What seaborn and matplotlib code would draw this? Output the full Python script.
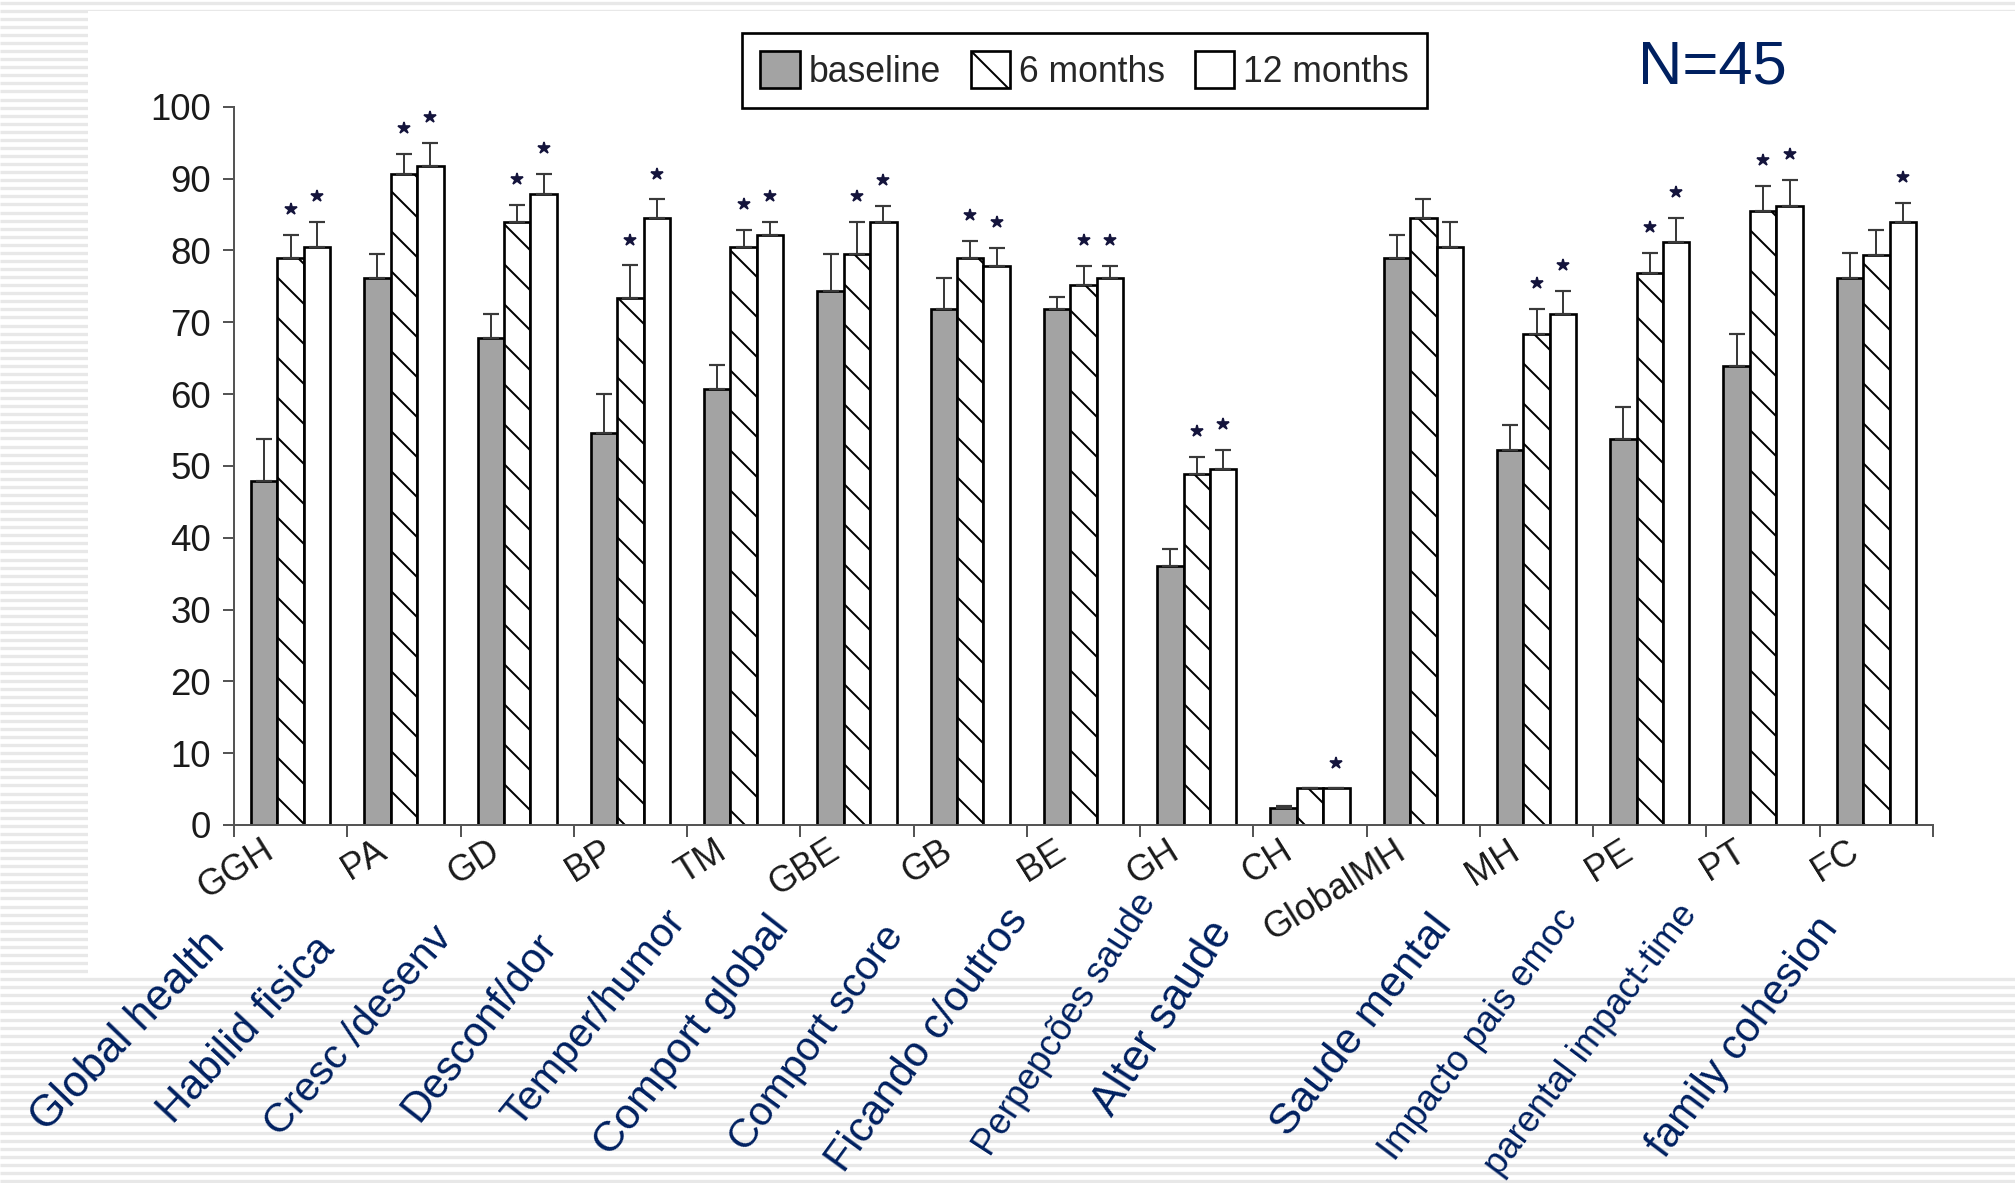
import numpy as np
import pandas as pd
import matplotlib
matplotlib.use("Agg")
import matplotlib.pyplot as plt
from matplotlib.patches import Patch, Rectangle
import seaborn as sns

# ---- data -------------------------------------------------------------
categories = ["GGH", "PA", "GD", "BP", "TM", "GBE", "GB", "BE", "GH", "CH",
              "GlobalMH", "MH", "PE", "PT", "FC"]
periods = ["baseline", "6 months", "12 months"]

baseline = [47.9, 76.2, 67.8, 54.6, 60.7, 74.4, 71.8, 71.8, 36.1, 2.4,
            78.9, 52.2, 53.8, 63.9, 76.2]
baseline_err = [5.9, 3.3, 3.3, 5.4, 3.3, 5.1, 4.4, 1.7, 2.3, 0.3,
                3.2, 3.5, 4.4, 4.5, 3.4]
months6 = [78.9, 90.6, 83.9, 73.4, 80.5, 79.5, 78.9, 75.2, 48.9, 5.1,
           84.5, 68.4, 76.8, 85.5, 79.4]
months6_err = [3.2, 2.8, 2.4, 4.5, 2.4, 4.4, 2.4, 2.6, 2.3, 0.0,
               2.7, 3.4, 2.8, 3.5, 3.5]
months12 = [80.5, 91.7, 87.9, 84.5, 82.2, 83.9, 77.8, 76.2, 49.5, 5.1,
            80.5, 71.1, 81.1, 86.2, 83.9]
months12_err = [3.5, 3.3, 2.8, 2.6, 1.7, 2.3, 2.5, 1.6, 2.7, 0.0,
                3.4, 3.3, 3.4, 3.6, 2.7]

# significance vs baseline (asterisks)
sig_6m = [1, 1, 1, 1, 1, 1, 1, 1, 1, 0, 0, 1, 1, 1, 0]
sig_12m = [1, 1, 1, 1, 1, 1, 1, 1, 1, 1, 0, 1, 1, 1, 1]

# Portuguese descriptions of each scale
descriptions = ["Global health", "Habilid fisica", "Cresc /desenv", "Desconf/dor",
                "Temper/humor", "Comport global", "Comport score", "Ficando c/outros",
                "Perpepcões saude", "Alter saude", "Saude mental", "Impacto pais emoc",
                "parental impact-time", "family cohesion"]

# ---- layout -----------------------------------------------------------
DPI = 120
W, H = 2015, 1183
NAVY = "#002060"

# (centre x px, centre y px, angle, size) for each description
desc_layout = [
    (128, 1032, 46, 26.4), (246, 1030, 47, 25.6), (358, 1031, 49, 24.8),
    (480, 1027, 52, 25.2), (594, 1018, 51, 24.8), (692, 1036, 52, 25.8),
    (817, 1038, 54, 24.6), (928, 1040, 54, 25.6), (1065, 1024, 57, 22.0),
    (1163, 1018, 57, 26.4), (1362, 1026, 52, 26.0), (1479, 1035, 53, 21.8),
    (1591, 1040, 53, 21.8), (1743, 1037, 53, 25.2),
]

sns.set_style("ticks")
plt.rcParams["font.family"] = ["Liberation Sans", "DejaVu Sans"]
plt.rcParams["hatch.linewidth"] = 1.2

fig = plt.figure(figsize=(W / DPI, H / DPI), dpi=DPI, facecolor="white")

# slide background: pinstripes with a white panel behind the chart
bg = fig.add_axes([0, 0, 1, 1], zorder=-10)
bg.set_xlim(0, W)
bg.set_ylim(H, 0)
bg.axis("off")
bg.hlines(np.arange(2.7, H, 8.07), 0, W, color="#e8e8e8", lw=2.0, zorder=1)
bg.add_patch(Rectangle((88, 11), W - 88, 977 - 11, facecolor="white",
                       edgecolor="none", zorder=5))

ax = fig.add_axes([234 / W, 1 - 825 / H, (1933 - 234) / W, (825 - 106.7) / H])
ax.patch.set_alpha(0)

df = pd.DataFrame({
    "scale": categories * 3,
    "period": np.repeat(periods, len(categories)),
    "score": baseline + months6 + months12,
})

sns.barplot(data=df, x="scale", y="score", hue="period", order=categories,
            hue_order=periods, palette=["#a3a3a3", "white", "white"],
            saturation=1, width=0.7, edgecolor="black", linewidth=1.6,
            errorbar=None, legend=False, ax=ax, zorder=2)

for bar in ax.containers[1]:
    bar.set_hatch("\\")

errs = [baseline_err, months6_err, months12_err]
sigs = [None, sig_6m, sig_12m]
for cont, err, sig in zip(ax.containers, errs, sigs):
    xs = np.array([b.get_x() + b.get_width() / 2 for b in cont])
    tops = np.array([b.get_height() for b in cont])
    err = np.array(err)
    ax.errorbar(xs, tops, yerr=[np.zeros_like(err), err], fmt="none",
                ecolor="#3a3a3a", elinewidth=1.2, capsize=4.8, capthick=1.3,
                zorder=3)
    if sig is not None:
        m = np.array(sig, dtype=bool)
        ax.plot(xs[m], (tops + err)[m] + 3.6, linestyle="none", marker="*",
                ms=7.5, color="#14143c", clip_on=False, zorder=4)

ax.set_xlim(-0.5, len(categories) - 0.5)
ax.set_ylim(0, 100)
ax.set_yticks(np.arange(0, 101, 10))
ax.set_xticks(np.arange(-0.5, len(categories), 1.0))
ax.set_xticklabels([""] * (len(categories) + 1))
ax.set_xticks(np.arange(len(categories)) - 0.1, minor=True)
ax.set_xticklabels(categories, minor=True, rotation=32, ha="right",
                   fontsize=21.5, color="#1a1a1a")
ax.set_xlabel("")
ax.set_ylabel("")
ax.tick_params(axis="x", which="minor", length=0, pad=5)
ax.tick_params(axis="x", which="major", length=7.2, width=1.2, color="#555555",
               direction="out")
ax.tick_params(axis="y", length=6.6, width=1.2, color="#555555", pad=7.2,
               labelsize=22, labelcolor="#1a1a1a", direction="out")
sns.despine(ax=ax)
for side in ("left", "bottom"):
    ax.spines[side].set_color("#555555")
    ax.spines[side].set_linewidth(1.2)

handles = [
    Patch(facecolor="#a3a3a3", edgecolor="black", lw=1.6),
    Patch(facecolor="white", edgecolor="black", lw=1.6, hatch="\\"),
    Patch(facecolor="white", edgecolor="black", lw=1.6),
]
leg = ax.legend(handles, periods, ncol=3, loc="upper left",
                bbox_to_anchor=(742 / W, 1 - 33 / H), bbox_transform=fig.transFigure,
                borderaxespad=0, fontsize=21.3, handlelength=1.1, handleheight=1.2,
                handletextpad=0.25, columnspacing=0.85, borderpad=0.52,
                fancybox=False, framealpha=1, edgecolor="black")
leg.get_frame().set_linewidth(1.6)

fig.text(1712 / W, 1 - 83 / H, "N=45", ha="center", va="baseline",
         fontsize=37, color=NAVY)

for text, (cx, cy, ang, fs) in zip(descriptions, desc_layout):
    fig.text(cx / W, 1 - cy / H, text, rotation=ang, rotation_mode="anchor",
             ha="center", va="center", fontsize=fs, color=NAVY)

fig.savefig("out.png", dpi=DPI, facecolor="white")
